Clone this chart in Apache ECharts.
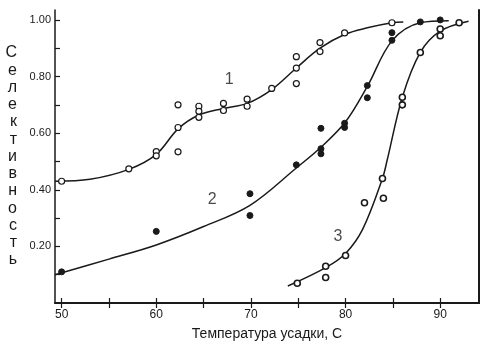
<!DOCTYPE html>
<html>
<head>
<meta charset="utf-8">
<script src="https://cdn.jsdelivr.net/npm/echarts@6/dist/echarts.min.js"></script>
<style>
  html, body { margin: 0; padding: 0; background: #fff; }
  #chart { width: 500px; height: 351px; }
</style>
</head>
<body>
<div id="chart"></div>
<script>
  // тики и подписи осей
  const xTicks = [50, 55, 60, 65, 70, 75, 80, 85, 90];
  const xLabels = [50, 60, 70, 80, 90];
  const yTicks = [0.1, 0.2, 0.3, 0.4, 0.5, 0.6, 0.7, 0.8, 0.9, 1.0];
  const yLabels = [0.2, 0.4, 0.6, 0.8, 1.0];

  // кривая 1 (светлые точки)
  const points1 = [[50, 0.43], [57.1, 0.474], [60, 0.535], [60, 0.52], [62.3, 0.70], [62.3, 0.62], [62.3, 0.534],
    [64.5, 0.695], [64.5, 0.677], [64.5, 0.656], [67.1, 0.705], [67.1, 0.68], [69.6, 0.72], [69.6, 0.695],
    [72.2, 0.758], [74.8, 0.87], [74.8, 0.83], [74.8, 0.775], [77.3, 0.92], [77.3, 0.888], [79.9, 0.954], [84.9, 0.99]];
  const curve1 = [[49.3, 0.43], [53, 0.437], [57.1, 0.472], [60, 0.525], [62.3, 0.615], [64.5, 0.664],
    [67.1, 0.687], [69.6, 0.705], [72.2, 0.754], [74.8, 0.83], [77.3, 0.9], [80, 0.95], [82.3, 0.972],
    [84.9, 0.99], [86.1, 0.993]];

  // кривая 2 (тёмные точки)
  const points2 = [[50, 0.11], [60, 0.253], [69.9, 0.386], [69.9, 0.309], [74.8, 0.488], [77.4, 0.527], [77.4, 0.545],
    [77.4, 0.617], [79.9, 0.635], [79.9, 0.62], [82.3, 0.768], [82.3, 0.725], [84.9, 0.955], [84.9, 0.928],
    [87.9, 0.993], [90, 1.0]];
  const curve2 = [[49.3, 0.10], [55, 0.155], [60, 0.205], [65, 0.27], [69.9, 0.345], [74.8, 0.477],
    [77.4, 0.55], [80, 0.64], [82.3, 0.765], [84.9, 0.926], [87.9, 0.99], [90.9, 0.997]];

  // кривая 3
  const points3 = [[74.9, 0.07], [77.9, 0.13], [77.9, 0.09], [80, 0.168], [82, 0.354], [83.9, 0.44], [84, 0.37],
    [86, 0.727], [86, 0.70], [87.9, 0.885], [90, 0.968], [90, 0.944], [92, 0.99]];
  const curve3 = [[73.9, 0.06], [77.9, 0.125], [80, 0.175], [81.8, 0.26], [83.9, 0.44], [84.4, 0.505],
    [86, 0.727], [87.9, 0.885], [90, 0.96], [93, 0.995]];

  // номера кривых
  const curveLabels = [
    { name: '1', value: [67.7, 0.79] },
    { name: '2', value: [65.9, 0.365] },
    { name: '3', value: [79.2, 0.235] }
  ];

  const ink = '#1a1a1a';
  const chart = echarts.init(document.getElementById('chart'));

  const lineSeries = (data) => ({
    type: 'line',
    data: data,
    smooth: 0.35,
    showSymbol: false,
    silent: true,
    lineStyle: { color: ink, width: 1.5 },
    z: 2
  });

  const pointSeries = (data, fill, bw) => ({
    type: 'scatter',
    data: data,
    symbol: 'circle',
    symbolSize: 6,
    itemStyle: { color: fill, borderColor: ink, borderWidth: bw, opacity: 1 },
    z: 3
  });

  const option = {
    animation: false,
    backgroundColor: '#fff',
    grid: { left: 55, right: 21, top: 10, bottom: 48 },
    xAxis: [{
      type: 'value',
      min: 49.3,
      max: 94.1,
      position: 'bottom',
      name: 'Температура усадки, С',
      nameLocation: 'middle',
      nameGap: 24,
      nameTextStyle: { color: ink, fontSize: 14, fontFamily: 'Liberation Sans' },
      axisLine: { show: true, onZero: false, lineStyle: { color: ink, width: 2 } },
      axisTick: { show: true, inside: true, length: 5, customValues: xTicks, lineStyle: { color: ink, width: 1.2 } },
      axisLabel: { customValues: xLabels, color: ink, fontSize: 12, margin: 6, fontFamily: 'Liberation Sans' },
      splitLine: { show: false }
    }, {
      type: 'value',
      min: 49.3,
      max: 94.1,
      position: 'top',
      axisLine: { show: true, lineStyle: { color: ink, width: 1.5 } },
      axisTick: { show: true, inside: true, length: 5, customValues: xTicks, lineStyle: { color: ink, width: 1.2 } },
      axisLabel: { show: false },
      splitLine: { show: false }
    }],
    yAxis: [{
      type: 'value',
      min: 0,
      max: 1.035,
      position: 'left',
      name: 'Селективность'.split('').join('\n'),
      nameLocation: 'middle',
      nameRotate: 0,
      nameGap: 38,
      nameTextStyle: { color: ink, fontSize: 16, lineHeight: 17.25, fontFamily: 'Liberation Sans' },
      axisLine: { show: true, lineStyle: { color: ink, width: 1.5 } },
      axisTick: { show: true, inside: true, length: 5, customValues: yTicks, lineStyle: { color: ink, width: 1.2 } },
      axisLabel: {
        customValues: yLabels,
        color: ink,
        fontSize: 11,
        margin: 4,
        fontFamily: 'Liberation Sans',
        formatter: (v) => v.toFixed(2)
      },
      splitLine: { show: false }
    }, {
      type: 'value',
      min: 0,
      max: 1.035,
      position: 'right',
      axisLine: { show: true, lineStyle: { color: ink, width: 2 } },
      axisTick: { show: false },
      axisLabel: { show: false },
      splitLine: { show: false }
    }],
    series: [
      lineSeries(curve1),
      lineSeries(curve2),
      lineSeries(curve3),
      pointSeries(points1, '#fff', 1.2),
      pointSeries(points2, ink, 1),
      pointSeries(points3, '#fff', 1.6),
      {
        type: 'scatter',
        data: curveLabels,
        symbolSize: 0,
        silent: true,
        label: {
          show: true,
          position: 'inside',
          formatter: (p) => p.name,
          color: ink,
          fontSize: 16,
          fontFamily: 'Liberation Sans'
        },
        z: 4
      }
    ]
  };

  chart.setOption(option);
</script>
</body>
</html>
